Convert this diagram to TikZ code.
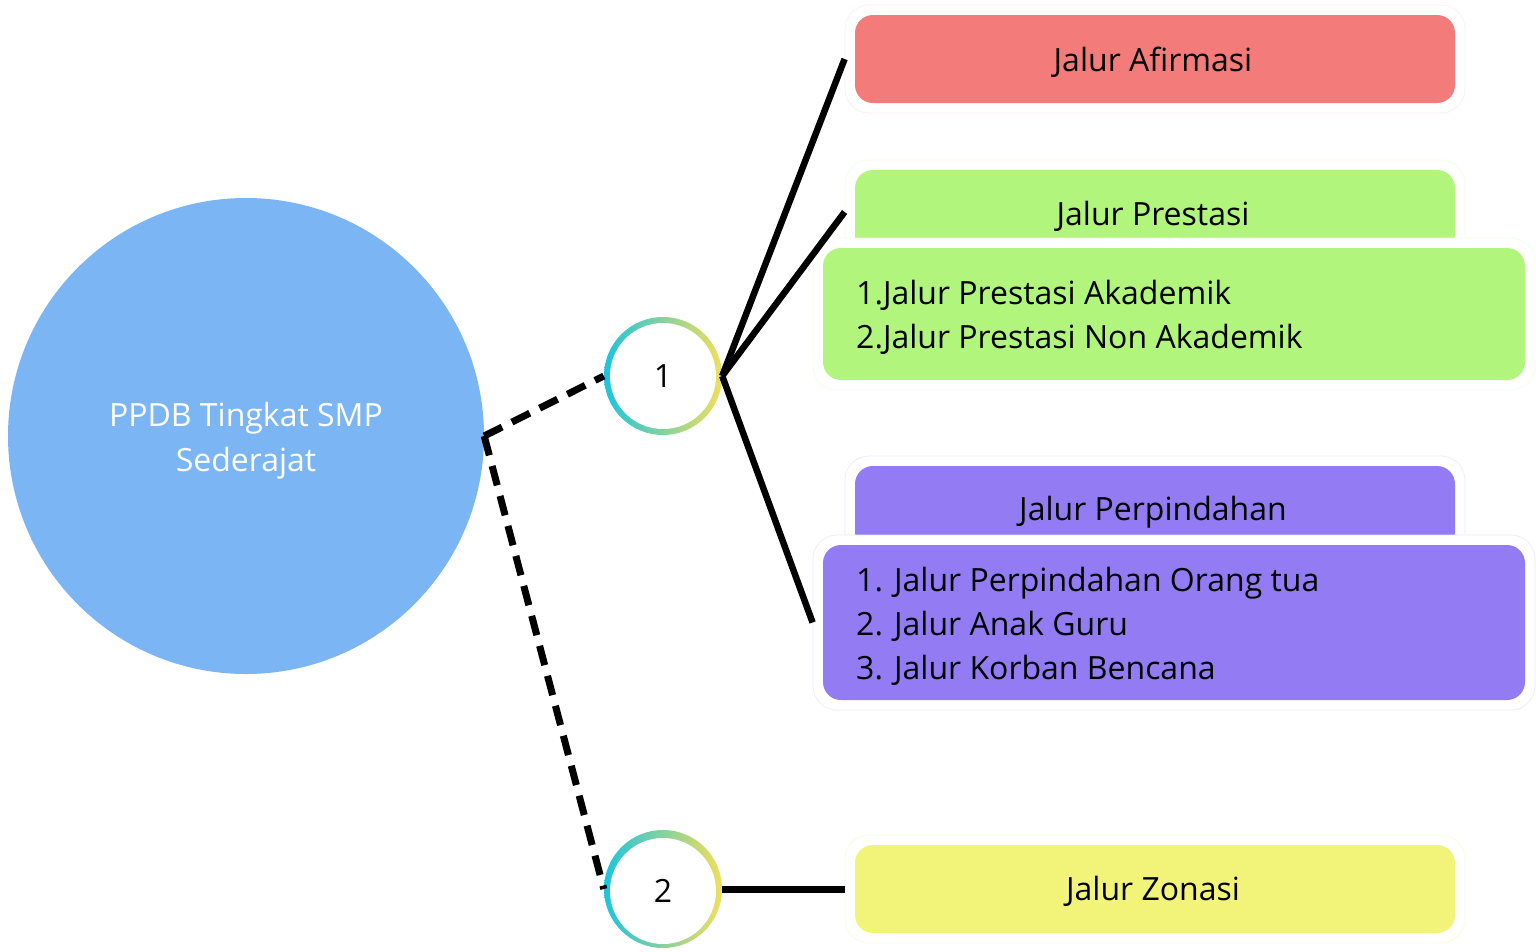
\documentclass[tikz,border=0pt]{standalone}
\usepackage{fontspec}
\setmainfont{Open Sans}
\begin{document}
\begin{tikzpicture}[x=1pt,y=-1pt,
  txt/.style={font=\fontsize{32}{44}\selectfont, inner sep=0pt},
  outerbox/.style={draw=#1, fill=white, line width=0.8pt, rounded corners=24pt},
  innerbox/.style={fill=#1, draw=none, rounded corners=18pt},
  conn/.style={line width=6.5pt},
  dconn/.style={line width=7pt, dash pattern=on 20pt off 11pt},
]
\definecolor{cRed}{HTML}{F37B7A}
\definecolor{cGreen}{HTML}{B1F57D}
\definecolor{cPurple}{HTML}{927BF3}
\definecolor{cYellow}{HTML}{F2F47A}
\definecolor{cBlue}{HTML}{7BB5F3}
\definecolor{gA}{HTML}{1CC4DD}
\definecolor{gB}{HTML}{F2DF5A}
\useasboundingbox (0,0) rectangle (1536,951);
\fill[white] (0,0) rectangle (1536,951);

% main circle
\node[circle, fill=cBlue, minimum size=476pt, inner sep=0pt] (main) at (246,436) {};
\node[text=white, font=\fontsize{32}{45}\selectfont, align=center, inner sep=0pt] (maintxt) at (246,441)
      {PPDB Tingkat SMP\\Sederajat};

% numbered circles
\node[circle, minimum size=118pt, inner sep=0pt, left color=gA, right color=gB, shading angle=90] (n1) at (663,376) {};
\node[circle, minimum size=106pt, fill=white, inner sep=0pt, font=\fontsize{32}{44}\selectfont] (n1in) at (n1) {1};
\node[circle, minimum size=118pt, inner sep=0pt, left color=gA, right color=gB, shading angle=90] (n2) at (663,889) {};
\node[circle, minimum size=106pt, fill=white, inner sep=0pt, font=\fontsize{32}{44}\selectfont] (n2in) at (663,891) {2};

% Afirmasi
\node[outerbox=cRed!12, minimum width=620pt, minimum height=108pt] (afo) at (1155,59) {};
\node[innerbox=cRed, minimum width=600pt, minimum height=88pt] (afi) at (1155,59) {};
\node[txt] (aft) at (1153,62) {Jalur Afirmasi};

% Prestasi header
\node[outerbox=cGreen!15, minimum width=620pt, minimum height=104pt] (pho) at (1155,212) {};
\node[innerbox=cGreen, minimum width=600pt, minimum height=84pt] (phi) at (1155,212) {};
\node[txt] (pht) at (1153,216) {Jalur Prestasi};
% Prestasi detail
\node[outerbox=cGreen!15, minimum width=722pt, minimum height=152pt] (pdo) at (1174,314) {};
\node[innerbox=cGreen, minimum width=702pt, minimum height=132pt] (pdi) at (1174,314) {};
\node[txt, anchor=west, align=left] (pdt) at (856,317) {1.Jalur Prestasi Akademik\\2.Jalur Prestasi Non Akademik};

% Perpindahan header
\node[outerbox=cPurple!15, minimum width=620pt, minimum height=104pt] (rho) at (1155,508) {};
\node[innerbox=cPurple, minimum width=600pt, minimum height=84pt] (rhi) at (1155,508) {};
\node[txt] (rht) at (1153,512) {Jalur Perpindahan};
% Perpindahan detail
\node[outerbox=cPurple!15, minimum width=722pt, minimum height=175pt] (rdo) at (1174,622.5) {};
\node[innerbox=cPurple, minimum width=702pt, minimum height=155pt] (rdi) at (1174,622.5) {};
\node[txt, anchor=west, align=left] (rdt) at (856,626) {1. Jalur Perpindahan Orang tua\\2. Jalur Anak Guru\\3. Jalur Korban Bencana};

% Zonasi
\node[outerbox=cYellow!25, minimum width=620pt, minimum height=108pt] (zo) at (1155,889) {};
\node[innerbox=cYellow, minimum width=600pt, minimum height=88pt] (zi) at (1155,889) {};
\node[txt] (zt) at (1153,891) {Jalur Zonasi};

% connectors
\draw[dconn] (main.east) -- (n1.west);
\draw[dconn] (main.east) -- (n2.west);
\draw[conn] (n1.east) -- (afo.west);
\draw[conn] (n1.east) -- (pho.west);
\draw[conn] (n1.east) -- (rdo.west);
\draw[line width=7pt] (n2.east) -- (zo.west);
\end{tikzpicture}
\end{document}
